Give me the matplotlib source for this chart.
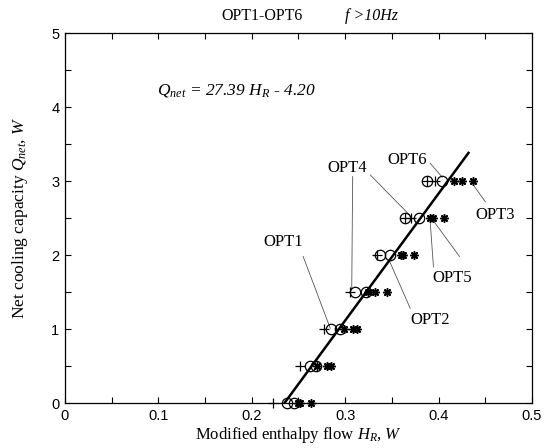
import numpy as np
import matplotlib
matplotlib.use("Agg")
import matplotlib.pyplot as plt
from matplotlib.ticker import FuncFormatter

plt.rcParams['mathtext.fontset'] = 'custom'
plt.rcParams['mathtext.rm'] = 'Liberation Serif'
plt.rcParams['mathtext.it'] = 'Liberation Serif:italic'
plt.rcParams['mathtext.bf'] = 'Liberation Serif:bold'

# ---- data ----
Q_levels = [0, 0.5, 1.0, 1.5, 2.0, 2.5, 3.0]
plus_a   = [0.223, 0.252, 0.277, 0.305, 0.334, 0.364, 0.388]
plus_b   = [np.nan, np.nan, np.nan, np.nan, np.nan, 0.370, 0.396]
circle_a = [0.238, 0.262, 0.285, 0.311, 0.337, 0.364, 0.388]
circle_b = [0.245, 0.269, 0.294, 0.322, 0.348, 0.379, 0.404]
star_a   = [0.250, 0.270, 0.299, 0.324, 0.360, 0.391, 0.416]
star_b   = [0.252, 0.281, 0.308, 0.332, 0.362, 0.394, 0.425]
star_c   = [0.263, 0.285, 0.313, 0.345, 0.374, 0.406, 0.437]

fit_H = [0.235, 0.432]
fit_Q = [0.0, 3.38]

labels = ["OPT1", "OPT2", "OPT3", "OPT4", "OPT5", "OPT6"]
label_pos = [(0.2335, 2.18), (0.391, 1.12), (0.4606, 2.54),
             (0.302, 3.18), (0.4146, 1.69), (0.366, 3.28)]
# leader lines: (label index, start H, start Q, end H, end Q)
leaders = [(0, 0.255, 1.98, 0.284, 1.01),
           (1, 0.3696, 1.28, 0.347, 1.93),
           (2, 0.437, 2.95, 0.450, 2.72),
           (3, 0.308, 3.06, 0.307, 1.53),
           (3, 0.327, 3.08, 0.369, 2.54),
           (4, 0.3945, 1.84, 0.391, 2.45),
           (4, 0.4224, 1.98, 0.394, 2.47),
           (5, 0.391, 3.24, 0.404, 3.05)]

x_ticks = np.round(np.arange(0, 0.501, 0.05), 2)
y_ticks = np.arange(0, 5.01, 0.5)

# ---- figure ----
fig = plt.figure(figsize=(5.48, 4.48), dpi=100)
ax = fig.add_axes([0.1186, 0.1004, 0.8522, 0.8259])

serif = 'Liberation Serif'

for (i, h0, q0, h1, q1) in leaders:
    ax.plot([h0, h1], [q0, q1], color='#555555', lw=0.6, zorder=1)

ax.plot(fit_H, fit_Q, color='black', lw=1.8, zorder=2)

mk = dict(linestyle='none', color='black', zorder=3, clip_on=False)
ax.plot(plus_a, Q_levels, marker='+', markersize=7.5, markeredgewidth=0.9, **mk)
ax.plot(plus_b, Q_levels, marker='+', markersize=7.5, markeredgewidth=0.9, **mk)
ax.plot(circle_a, Q_levels, marker='o', markersize=7.5, markerfacecolor='none',
        markeredgewidth=0.9, **mk)
ax.plot(circle_b, Q_levels, marker='o', markersize=7.5, markerfacecolor='none',
        markeredgewidth=0.9, **mk)
for s in (star_a, star_b, star_c):
    ax.plot(s, Q_levels, marker=(8, 2, 0), markersize=6, markeredgewidth=1.1, **mk)

for name, (h, q) in zip(labels, label_pos):
    ax.text(h, q, name, family=serif, fontsize=12, ha='center', va='center')

ax.text(0.099, 4.22, r"$Q_{net}$ = 27.39 $H_R$ - 4.20", family=serif,
        style='italic', fontsize=12.5, ha='left', va='center')

ax.set_xlim(0, 0.5)
ax.set_ylim(0, 5)
ax.set_xticks(x_ticks)
ax.set_yticks(y_ticks)
ax.xaxis.set_major_formatter(FuncFormatter(
    lambda v, p: (('%g' % round(v, 2)) if abs(round(v * 10) - v * 10) < 1e-6 else '')))
ax.yaxis.set_major_formatter(FuncFormatter(
    lambda v, p: (('%d' % round(v)) if abs(round(v) - v) < 1e-6 else '')))
ax.tick_params(direction='in', length=4.5, width=0.8, top=True, right=True,
               labelsize=10.5, pad=4)
for lab in ax.get_xticklabels() + ax.get_yticklabels():
    lab.set_family('Liberation Sans')
for sp in ax.spines.values():
    sp.set_linewidth(0.9)

ax.set_xlabel(r"Modified enthalpy flow $H_R$, $W$", family=serif, fontsize=12,
              labelpad=2)
ax.set_ylabel(r"Net cooling capacity $Q_{net}$, $W$", family=serif, fontsize=12.5,
              labelpad=15)

fig.text(262 / 548, 1 - 16 / 448, "OPT1-OPT6", family=serif, fontsize=11.5,
         ha='center', va='center')
fig.text(345 / 548, 1 - 16 / 448, "f >10Hz", family=serif, style='italic',
         fontsize=11.5, ha='left', va='center')

fig.savefig("out.png", dpi=100)
